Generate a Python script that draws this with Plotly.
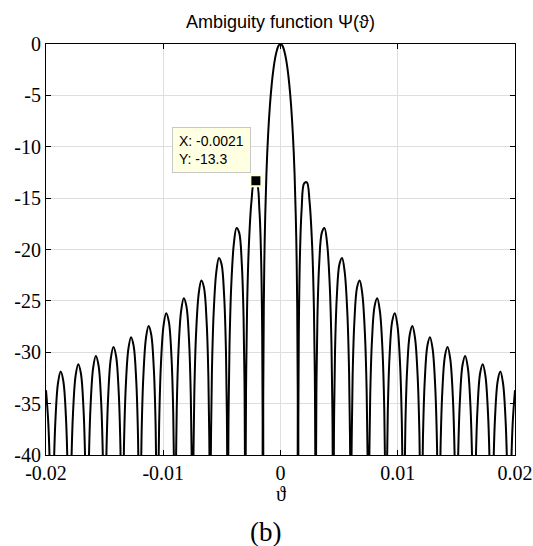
import plotly.graph_objects as go

# ---------------- data ----------------
# Positive half of the curve; theta given in units of 1e-3, Psi in dB.
theta_half_milli = [
    0, 0.15, 0.3, 0.45, 0.6, 0.75, 0.9, 1.05, 1.2, 1.35, 1.425, 1.47, 1.4925,
    1.5075, 1.5225, 1.56, 1.65, 1.8, 2.025, 2.25, 2.475, 2.7, 2.85, 2.94, 2.9775, 2.9925,
    3.0075, 3.0225, 3.06, 3.15, 3.3, 3.525, 3.75, 3.975, 4.2, 4.35, 4.44, 4.4775, 4.4925,
    4.5075, 4.5225, 4.56, 4.65, 4.8, 5.025, 5.25, 5.475, 5.7, 5.85, 5.94, 5.9775, 5.9925,
    6.0075, 6.0225, 6.06, 6.15, 6.3, 6.525, 6.75, 6.975, 7.2, 7.35, 7.44, 7.4775, 7.4925,
    7.5075, 7.5225, 7.56, 7.65, 7.8, 8.025, 8.25, 8.475, 8.7, 8.85, 8.94, 8.9775, 8.9925,
    9.0075, 9.0225, 9.06, 9.15, 9.3, 9.525, 9.75, 9.975, 10.2, 10.35, 10.44, 10.4775, 10.4925,
    10.5075, 10.5225, 10.56, 10.65, 10.8, 11.025, 11.25, 11.475, 11.7, 11.85, 11.94, 11.9775, 11.9925,
    12.0075, 12.0225, 12.06, 12.15, 12.3, 12.525, 12.75, 12.975, 13.2, 13.35, 13.44, 13.4775, 13.4925,
    13.5075, 13.5225, 13.56, 13.65, 13.8, 14.025, 14.25, 14.475, 14.7, 14.85, 14.94, 14.9775, 14.9925,
    15.0075, 15.0225, 15.06, 15.15, 15.3, 15.525, 15.75, 15.975, 16.2, 16.35, 16.44, 16.4775, 16.4925,
    16.5075, 16.5225, 16.56, 16.65, 16.8, 17.025, 17.25, 17.475, 17.7, 17.85, 17.94, 17.9775, 17.9925,
    18.0075, 18.0225, 18.06, 18.15, 18.3, 18.525, 18.75, 18.975, 19.2, 19.35, 19.44, 19.4775, 19.4925,
    19.5075, 19.5225, 19.56, 19.65, 19.8, 20.0,
]
psi_half_db = [
    0, -0.14, -0.58, -1.33, -2.42, -3.92, -5.94, -8.69, -12.62, -19.23, -25.61, -33.81, -45.98,
    -46.07, -36.61, -28.32, -20.97, -16.15, -13.55, -13.47, -15.29, -19.67, -25.72, -33.83, -42.44, -52.02,
    -52.07, -42.57, -34.18, -26.59, -21.41, -18.36, -17.90, -19.41, -23.51, -29.39, -37.41, -45.98, -55.55,
    -55.58, -46.07, -37.64, -29.97, -24.67, -21.44, -20.82, -22.19, -26.16, -31.96, -39.94, -48.49, -58.05,
    -58.08, -48.56, -40.11, -32.40, -27.03, -23.71, -23.01, -24.29, -28.19, -33.95, -41.89, -50.44, -59.99,
    -60.01, -50.49, -42.03, -34.29, -28.88, -25.51, -24.75, -25.98, -29.83, -35.56, -43.49, -52.02, -61.58,
    -61.59, -52.07, -43.60, -35.85, -30.41, -27.00, -26.20, -27.40, -31.21, -36.92, -44.84, -53.37, -62.92,
    -62.93, -53.40, -44.93, -37.17, -31.71, -28.27, -27.44, -28.62, -32.41, -38.10, -46.00, -54.53, -64.08,
    -64.09, -54.56, -46.09, -38.31, -32.84, -29.38, -28.53, -29.68, -33.45, -39.13, -47.03, -55.55, -65.10,
    -65.11, -55.58, -47.11, -39.32, -33.84, -30.36, -29.50, -30.63, -34.39, -40.06, -47.95, -56.47, -66.02,
    -66.03, -56.50, -48.02, -40.23, -34.74, -31.24, -30.37, -31.49, -35.23, -40.89, -48.78, -57.30, -66.85,
    -66.86, -57.32, -48.84, -41.05, -35.55, -32.04, -31.16, -32.27, -36.00, -41.65, -49.54, -58.06, -67.60,
    -67.61, -58.08, -49.60, -41.80, -36.29, -32.78, -31.88, -32.99, -36.71, -42.36, -50.24, -58.75, -68.30,
    -68.31, -58.77, -50.29, -42.49, -36.97, -33.69,
]

# Data tip
tip_x = -0.0021
tip_y = -13.3

# Axes ticks
x_ticks = [-0.02, -0.01, 0, 0.01, 0.02]
x_tick_labels = ["-0.02", "-0.01", "0", "0.01", "0.02"]
y_ticks = [0, -5, -10, -15, -20, -25, -30, -35, -40]
y_tick_labels = ["0", "-5", "-10", "-15", "-20", "-25", "-30", "-35", "-40"]

title_text = "Ambiguity function \u03a8(\u03d1)"
x_label = "\u03d1"
panel_label = "(b)"

# ---------------- build the symmetric curve ----------------
theta_right = [t * 1e-3 for t in theta_half_milli]
theta = [-t for t in theta_right[:0:-1]] + theta_right
psi = psi_half_db[:0:-1] + psi_half_db

serif = "Liberation Serif, Times New Roman, DejaVu Serif, serif"
sans = "Liberation Sans, Arial, DejaVu Sans, sans-serif"

fig = go.Figure()
fig.add_trace(go.Scatter(
    x=theta, y=psi, mode="lines",
    line=dict(color="black", width=2, shape="spline", smoothing=1.0),
    hoverinfo="skip", showlegend=False,
))
fig.add_trace(go.Scatter(
    x=[tip_x], y=[tip_y], mode="markers",
    marker=dict(symbol="square", size=11, color="black",
                line=dict(color="#ffffd8", width=2)),
    hoverinfo="skip", showlegend=False, cliponaxis=False,
))

axis_common = dict(
    showline=True, linecolor="black", linewidth=1, mirror="ticks",
    ticks="inside", ticklen=5, tickcolor="black", tickwidth=1,
    showgrid=True, gridcolor="#dedede", gridwidth=1,
    zeroline=False, automargin=False,
    tickfont=dict(family=serif, size=20, color="black"),
)

fig.update_layout(
    width=533, height=546,
    margin=dict(l=46, r=18, t=44, b=91, autoexpand=False),
    paper_bgcolor="white", plot_bgcolor="white",
    hovermode=False,
    xaxis=dict(range=[-0.02, 0.02], tickvals=x_ticks, ticktext=x_tick_labels, **axis_common),
    yaxis=dict(range=[-40, 0], tickvals=y_ticks, ticktext=y_tick_labels, **axis_common),
    annotations=[
        dict(text=title_text, xref="paper", yref="paper", x=0.5, y=1.0, yshift=22,
             xanchor="center", yanchor="middle", showarrow=False,
             font=dict(family=sans, size=18, color="black")),
        dict(text=x_label, xref="paper", yref="paper", x=0.5, y=0.0, yshift=-39,
             xanchor="center", yanchor="middle", showarrow=False,
             font=dict(family=serif, size=20, color="black")),
        dict(text=panel_label, xref="paper", yref="paper", x=0.467, y=0.0, yshift=-77,
             xanchor="center", yanchor="middle", showarrow=False,
             font=dict(family=serif, size=27, color="black")),
        dict(text=f"X: {tip_x}<br>Y: {tip_y}", x=tip_x, y=tip_y, xref="x", yref="y",
             xshift=-44, yshift=31, xanchor="center", yanchor="middle", showarrow=False,
             align="left", valign="middle", width=65, height=32,
             bgcolor="#ffffe1", bordercolor="#c8c8c8", borderwidth=1,
             borderpad=6, font=dict(family=sans, size=14, color="black")),
    ],
)

# Remove the default page margin so the figure sits at the window's top-left corner.
fig.write_html(
    "out.html",
    config={"displayModeBar": False, "staticPlot": True},
    post_script="document.body.style.margin='0';document.body.style.overflow='hidden';",
)
